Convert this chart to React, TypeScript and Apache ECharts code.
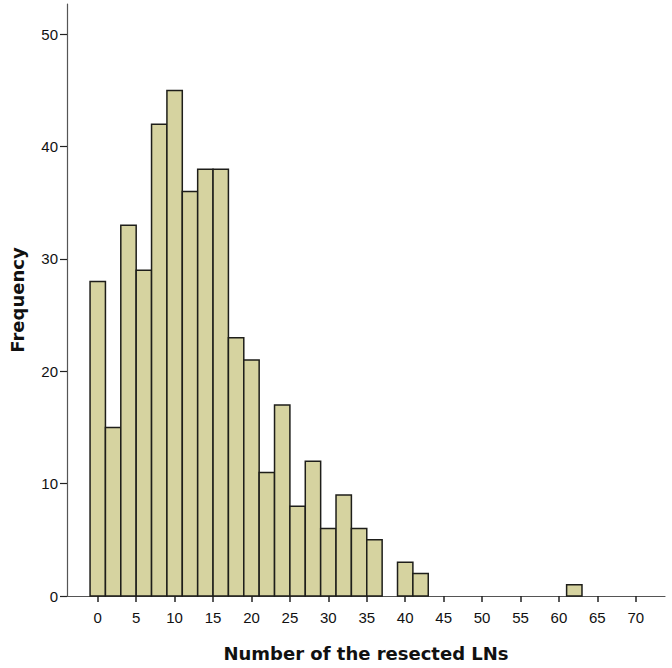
import React, { useEffect, useRef } from "react";
import * as echarts from "echarts";

const binCenters = [0, 2, 4, 6, 8, 10, 12, 14, 16, 18, 20, 22, 24, 26, 28, 30, 32, 34, 36, 40, 42, 62];
const frequencies = [28, 15, 33, 29, 42, 45, 36, 38, 38, 23, 21, 11, 17, 8, 12, 6, 9, 6, 5, 3, 2, 1];
const binWidth = 2;
const xTicks = [0, 5, 10, 15, 20, 25, 30, 35, 40, 45, 50, 55, 60, 65, 70];
const yTicks = [0, 10, 20, 30, 40, 50];

export default function App() {
  const ref = useRef<HTMLDivElement>(null);
  useEffect(() => {
    if (!ref.current) return;
    const chart = echarts.init(ref.current, undefined, { renderer: "svg" });
    const data = binCenters.map((c, i) => [c, frequencies[i]]);
    chart.setOption({
      animation: false,
      backgroundColor: "#ffffff",
      grid: { left: 67, right: 7, top: 4, bottom: 72, containLabel: false },
      xAxis: {
        type: "value",
        min: -4,
        max: 73.8,
        name: "Number of the resected LNs",
        nameLocation: "middle",
        nameGap: 48,
        nameTextStyle: { fontFamily: "DejaVu Sans", fontWeight: "bold", fontSize: 18, color: "#111" },
        splitLine: { show: false },
        axisLine: { show: true, onZero: false, lineStyle: { color: "#555", width: 1.2 } },
        axisTick: { show: true, length: 6, customValues: xTicks, lineStyle: { color: "#222", width: 1.5 } },
        axisLabel: {
          customValues: xTicks,
          margin: 14,
          fontFamily: "Liberation Sans",
          fontSize: 15,
          color: "#111",
        },
      },
      yAxis: {
        type: "value",
        min: 0,
        max: 52.7,
        name: "Frequency",
        nameLocation: "middle",
        nameGap: 41,
        nameRotate: 90,
        nameTextStyle: { fontFamily: "DejaVu Sans", fontWeight: "bold", fontSize: 18, color: "#111" },
        splitLine: { show: false },
        axisLine: { show: true, onZero: false, lineStyle: { color: "#555", width: 1.2 } },
        axisTick: { show: true, length: 7, customValues: yTicks, lineStyle: { color: "#222", width: 1.2 } },
        axisLabel: {
          customValues: yTicks,
          margin: 9,
          fontFamily: "Liberation Sans",
          fontSize: 15,
          color: "#111",
        },
      },
      series: [
        {
          type: "custom",
          data,
          clip: false,
          renderItem: (params: any, api: any) => {
            const x = api.value(0);
            const y = api.value(1);
            const p0 = api.coord([x - binWidth / 2, 0]);
            const p1 = api.coord([x + binWidth / 2, y]);
            return {
              type: "rect",
              shape: { x: p0[0], y: p1[1], width: p1[0] - p0[0], height: p0[1] - p1[1] },
              style: { fill: "#d6d3a0", stroke: "#1e1e1a", lineWidth: 1.5 },
            };
          },
        },
      ],
    });
    return () => chart.dispose();
  }, []);
  return <div ref={ref} style={{ width: 672, height: 668, position: "absolute", left: 0, top: 0 }} />;
}
